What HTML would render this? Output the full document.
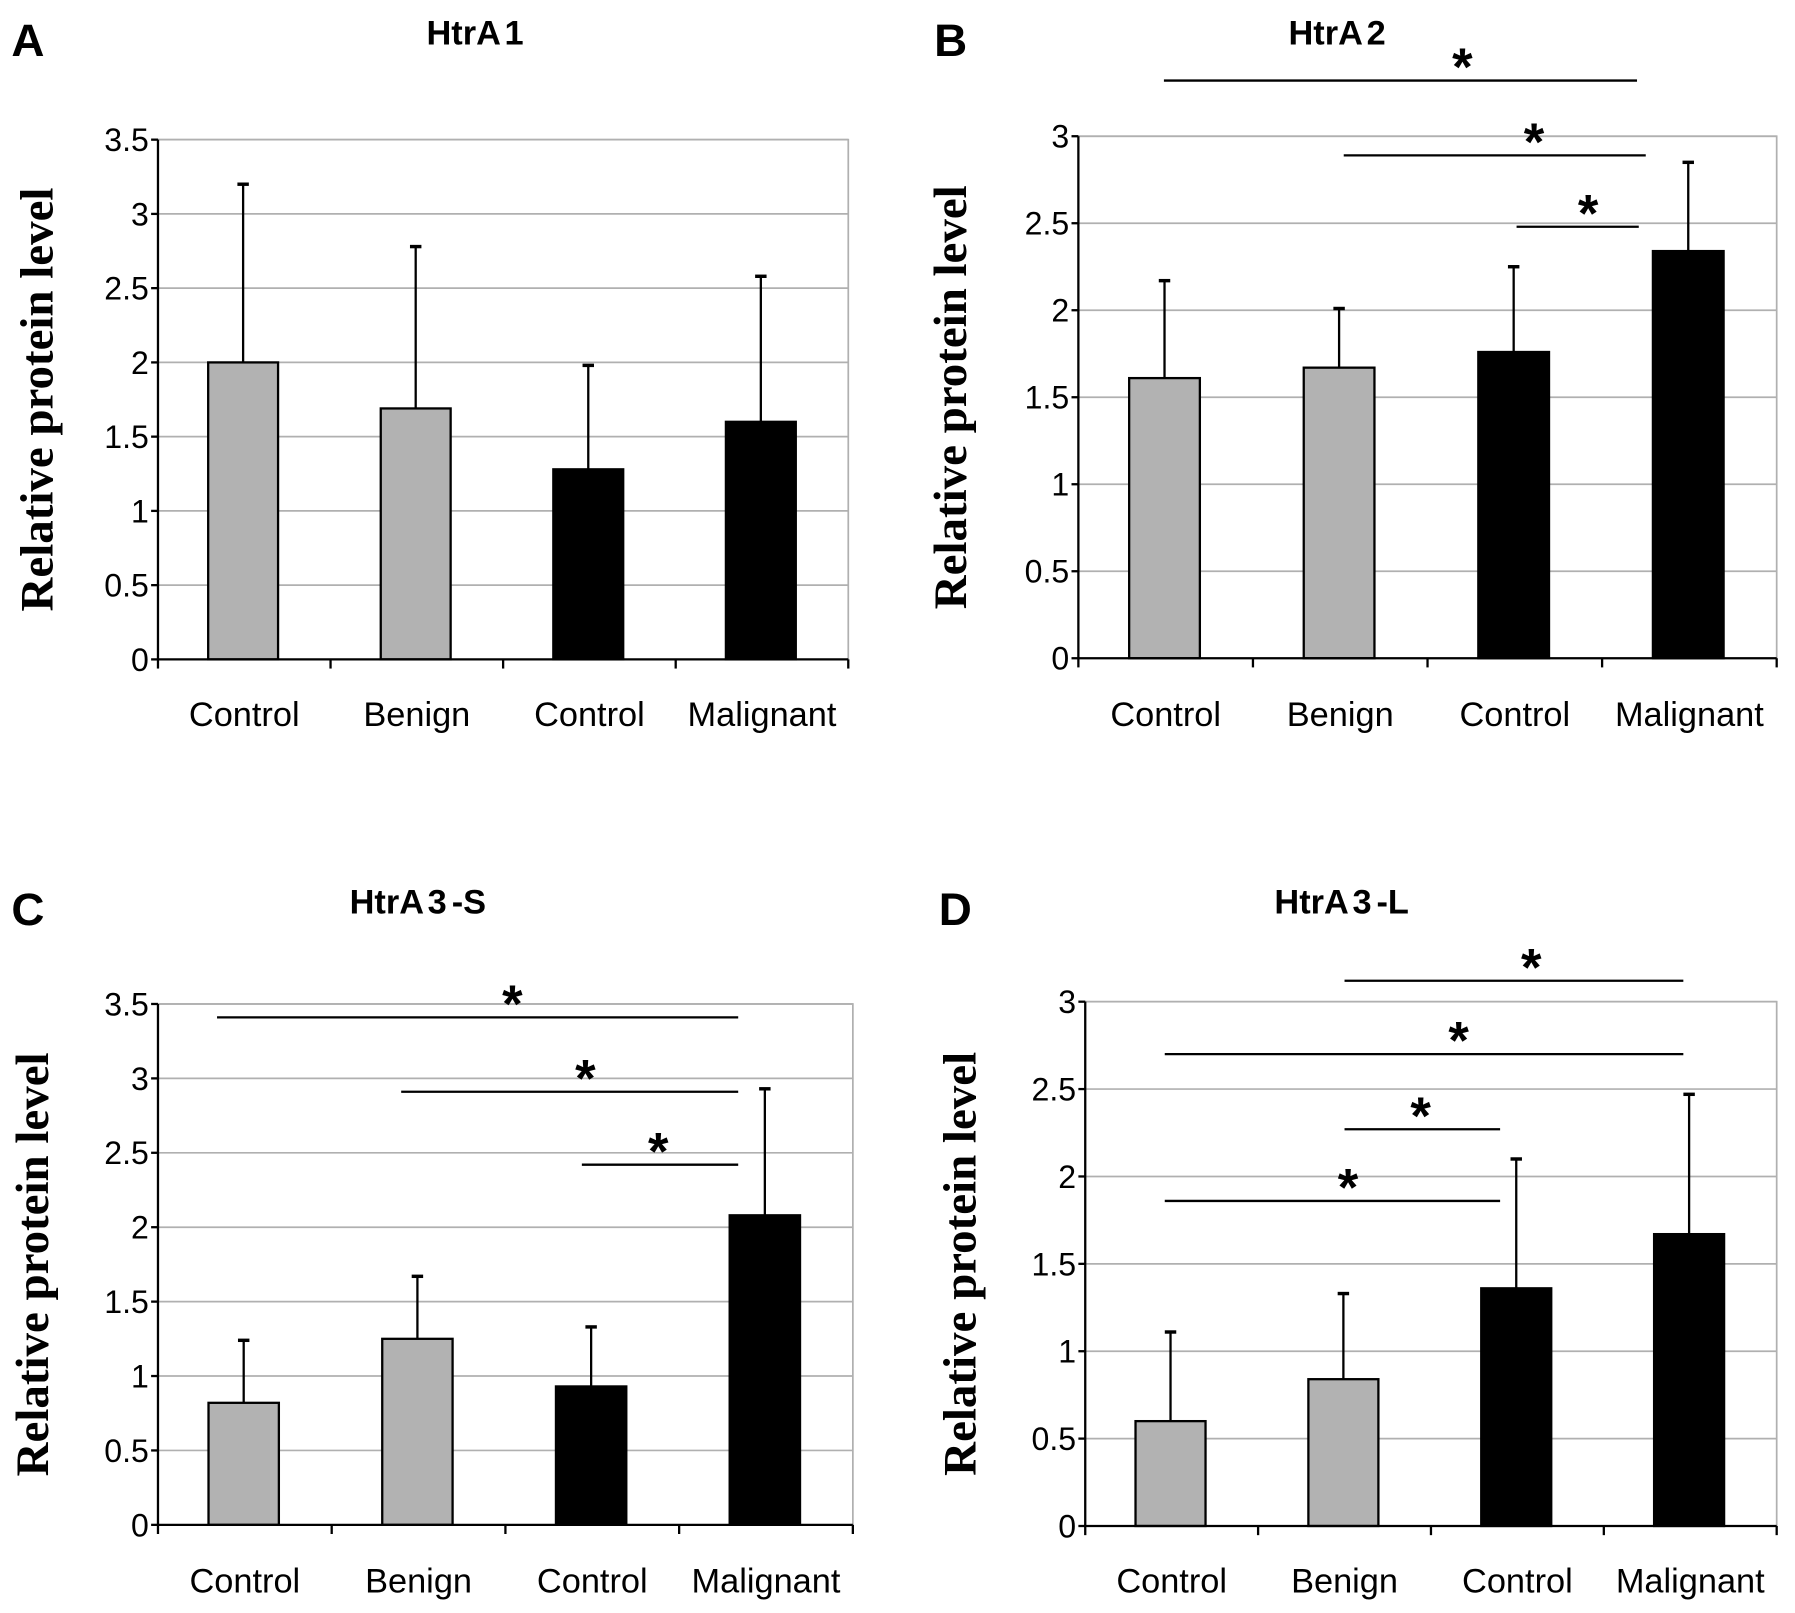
<!DOCTYPE html>
<html><head><meta charset="utf-8"><style>
html,body{margin:0;padding:0;background:#fff;}
svg{display:block;}
</style></head><body>
<svg id="fig" width="1795" height="1613" viewBox="0 0 1568 1409" preserveAspectRatio="none" xmlns="http://www.w3.org/2000/svg"></svg>
<script>
const categories = ["Control","Benign","Control","Malignant"];
const colors = ["#b2b2b2","#b2b2b2","#000","#000"];
const a_means = [2.0,1.69,1.28,1.6];
const a_upper = [3.2,2.78,1.98,2.58];
const b_means = [1.61,1.67,1.76,2.34];
const b_upper = [2.17,2.01,2.25,2.85];
const c_means = [0.82,1.25,0.93,2.08];
const c_upper = [1.24,1.67,1.33,2.93];
const d_means = [0.6,0.84,1.36,1.67];
const d_upper = [1.11,1.33,2.1,2.47];
const a_ticks = ["0","0.5","1","1.5","2","2.5","3","3.5"];
const b_ticks = ["0","0.5","1","1.5","2","2.5","3"];
const c_ticks = ["0","0.5","1","1.5","2","2.5","3","3.5"];
const d_ticks = ["0","0.5","1","1.5","2","2.5","3"];
// significance brackets: [start category position, end category position, y value, star category position]
const b_sig = [[0.49,3.2,3.32,2.20],[1.52,3.25,2.89,2.61],[2.51,3.21,2.48,2.92]];
const c_sig = [[0.34,3.34,3.41,2.04],[1.40,3.34,2.91,2.46],[2.44,3.34,2.42,2.88]];
const d_sig = [[1.50,3.46,3.12,2.58],[0.46,3.46,2.70,2.16],[1.50,2.40,2.27,1.94],[0.46,2.40,1.86,1.52]];

const NS="http://www.w3.org/2000/svg";
const svg=document.getElementById('fig');
function mk(tag,attrs,parent){const e=document.createElementNS(NS,tag);for(const k in attrs)e.setAttribute(k,attrs[k]);(parent||svg).appendChild(e);return e;}

const panels=[
 {id:'a',letter:'A',title:'HtrA 1',L:138,R:741,T:122,B:576,max:3.5,means:a_means,upper:a_upper,ticks:a_ticks,sig:[],lx:10,tx:415,ty:38,ytx:46,catY:634},
 {id:'b',letter:'B',title:'HtrA 2',L:942,R:1552,T:119,B:575,max:3.0,means:b_means,upper:b_upper,ticks:b_ticks,sig:b_sig,lx:816,tx:1168,ty:38,ytx:844,catY:634},
 {id:'c',letter:'C',title:'HtrA 3 -S',L:138,R:745,T:877,B:1332,max:3.5,means:c_means,upper:c_upper,ticks:c_ticks,sig:c_sig,lx:10,tx:365,ty:797,ytx:42,catY:1391},
 {id:'d',letter:'D',title:'HtrA 3 -L',L:948,R:1552,T:875,B:1333,max:3.0,means:d_means,upper:d_upper,ticks:d_ticks,sig:d_sig,lx:820,tx:1172,ty:797,ytx:852,catY:1391}
];

panels.forEach(p=>{
  const g=mk('g',{});
  
  
  const y=v=>p.B-(v/p.max)*(p.B-p.T);
  const cw=(p.R-p.L)/categories.length;
  const x=c=>p.L+c*cw;
  const lt=mk('text',{x:p.lx,y:p.ty+11,'font-family':'Liberation Sans, sans-serif','font-weight':'bold','font-size':40,fill:'#000'},g);
  lt.textContent=p.letter;
  
  
  const tt=mk('text',{x:p.tx,y:p.ty+1,'text-anchor':'middle','font-family':'Liberation Sans, sans-serif','font-weight':'bold','font-size':30,fill:'#000','word-spacing':-4},g);
  tt.textContent=p.title;
  
  
  const fr=mk('rect',{x:p.L,y:p.T,width:p.R-p.L,height:p.B-p.T,fill:'none',stroke:'#b0b0b0','stroke-width':1.5},g);
  
  
  p.ticks.forEach((t,i)=>{
    const v=parseFloat(t);const yy=y(v);
    if(v>0){const gl=mk('line',{x1:p.L,x2:p.R,y1:yy,y2:yy,stroke:'#b0b0b0','stroke-width':1.5},g);
      
      }
    mk('line',{x1:p.L-6,x2:p.L,y1:yy,y2:yy,stroke:'#000','stroke-width':2},g);
    const tl=mk('text',{x:p.L-8,y:yy+10,'text-anchor':'end','font-family':'Liberation Sans, sans-serif','font-size':28,fill:'#000'},g);
    tl.textContent=t;
    
    
  });
  categories.forEach((c,i)=>{
    const cx=x(i+0.5)-1;const bw=cw*0.405;
    const r=mk('rect',{x:cx-bw/2,y:y(p.means[i]),width:bw,height:p.B-y(p.means[i]),fill:colors[i],stroke:'#000','stroke-width':2},g);
    
    
    const eb=mk('line',{x1:cx,x2:cx,y1:y(p.means[i]),y2:y(p.upper[i]),stroke:'#000','stroke-width':2},g);
    
    
    mk('line',{x1:cx-5,x2:cx+5,y1:y(p.upper[i]),y2:y(p.upper[i]),stroke:'#000','stroke-width':3},g);
    const cl=mk('text',{x:x(i+0.5),y:p.catY,'text-anchor':'middle','font-family':'Liberation Sans, sans-serif','font-size':30,fill:'#000'},g);
    cl.textContent=c;
    
    
  });
  const ya=mk('line',{x1:p.L,x2:p.L,y1:p.T,y2:p.B,stroke:'#000','stroke-width':2},g);
  
  
  const xa=mk('line',{x1:p.L,x2:p.R,y1:p.B,y2:p.B,stroke:'#000','stroke-width':2},g);
  
  
  for(let i=0;i<=categories.length;i++){mk('line',{x1:x(i),x2:x(i),y1:p.B,y2:p.B+8,stroke:'#000','stroke-width':2},g);}
  const cy=(p.T+p.B)/2;
  const yt=mk('text',{x:p.ytx,y:cy,transform:`rotate(-90 ${p.ytx} ${cy})`,'text-anchor':'middle','font-family':'Liberation Serif, serif','font-weight':'bold','font-size':41,fill:'#000'},g);
  yt.textContent='Relative protein level';
  
  
  p.sig.forEach(s=>{
    const yy=y(s[2]);
    const sl=mk('line',{x1:x(s[0]),x2:x(s[1]),y1:yy,y2:yy,stroke:'#000','stroke-width':2},g);
    
    
    const st=mk('text',{x:x(s[3]),y:yy+4,'text-anchor':'middle','font-family':'Liberation Sans, sans-serif','font-weight':'bold','font-size':46,fill:'#000'},g);
    st.textContent='*';
    
    
  });
});
</script>
</body></html>
